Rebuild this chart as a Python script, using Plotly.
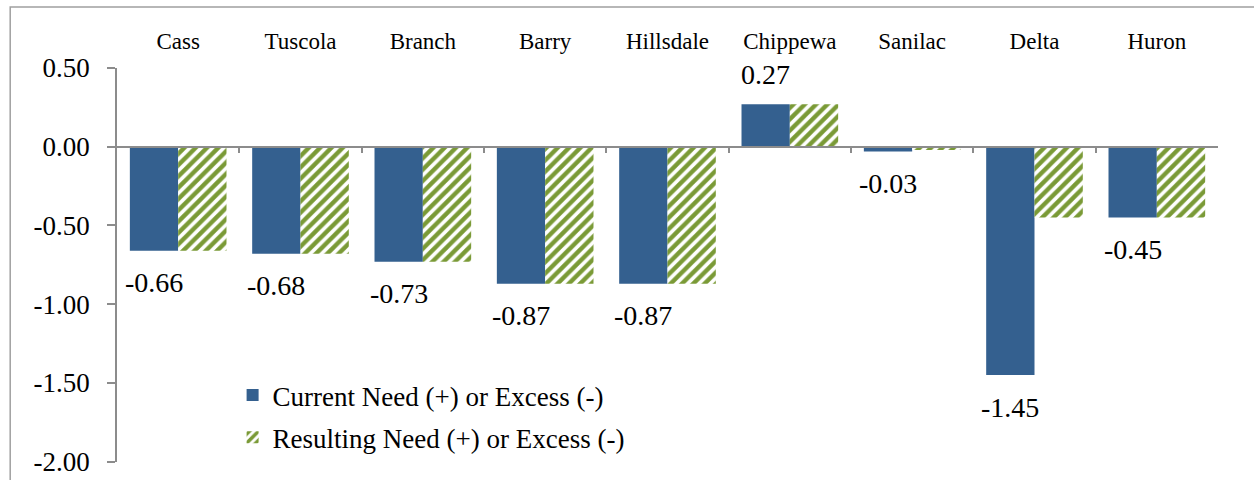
import plotly.graph_objects as go

# County-level need (+) or excess (-)
counties = ["Cass", "Tuscola", "Branch", "Barry", "Hillsdale",
            "Chippewa", "Sanilac", "Delta", "Huron"]
current_need = [-0.66, -0.68, -0.73, -0.87, -0.87, 0.27, -0.03, -1.45, -0.45]
resulting_need = [-0.66, -0.68, -0.73, -0.87, -0.87, 0.27, -0.02, -0.45, -0.45]

y_ticks = [0.5, 0.0, -0.5, -1.0, -1.5, -2.0]
y_tick_text = ["0.50", "0.00", "-0.50", "-1.00", "-1.50", "-2.00"]

BLUE = "#34608F"
GREEN = "#7A9A36"
AXIS_GRAY = "#8C8C8C"
SERIF = "Liberation Serif"
BARGAP = 0.21
Y_RANGE = [-2.002, 0.5]

fig = go.Figure()
fig.add_trace(go.Bar(
    x=counties, y=current_need, name="Current Need (+) or Excess (-)",
    marker=dict(color=BLUE, line=dict(width=0)), legendgroup="a",
))
fig.add_trace(go.Bar(
    x=counties, y=resulting_need, name="Resulting Need (+) or Excess (-)",
    marker=dict(color="white", line=dict(width=0),
                pattern=dict(shape="/", fgcolor=GREEN, bgcolor="white",
                             fgopacity=1, size=8, solidity=0.55,
                             fillmode="replace")),
    legendgroup="b",
))

# value labels under/over the "current" bars
offset = -(1 - BARGAP) / 4
for i, v in enumerate(current_need):
    fig.add_annotation(
        x=i + offset, y=v, xref="x", yref="y",
        text=f"{v:.2f}", showarrow=False,
        yshift=30 if v > 0 else -32, yanchor="middle",
        font=dict(family=SERIF, size=28, color="black"),
    )

zero_pos = (0 - Y_RANGE[0]) / (Y_RANGE[1] - Y_RANGE[0])

fig.update_layout(
    width=1254, height=480,
    margin=dict(l=117, r=36, t=68, b=18),
    paper_bgcolor="white", plot_bgcolor="white",
    barmode="group", bargap=BARGAP, bargroupgap=0,
    showlegend=True,
    legend=dict(x=0.105, y=0.0, xanchor="left", yanchor="bottom",
                bgcolor="rgba(0,0,0,0)", traceorder="grouped",
                tracegroupgap=4, borderwidth=0,
                font=dict(family=SERIF, size=27, color="black")),
    xaxis=dict(
        type="category", side="top", anchor="free", position=zero_pos,
        showline=True, linecolor=AXIS_GRAY, linewidth=1.5,
        ticks="inside", ticklen=6, tickcolor=AXIS_GRAY, tickwidth=1.5,
        tickson="boundaries", showgrid=False, zeroline=False,
        ticklabelstandoff=88, automargin=False,
        tickfont=dict(family=SERIF, size=23, color="black"),
    ),
    yaxis=dict(
        range=Y_RANGE, tickvals=y_ticks, ticktext=y_tick_text,
        showline=True, linecolor=AXIS_GRAY, linewidth=1.5,
        ticks="outside", ticklen=8, tickcolor=AXIS_GRAY, tickwidth=1.5,
        showgrid=False, zeroline=False, ticklabelstandoff=12,
        automargin=False,
        tickfont=dict(family=SERIF, size=27, color="black"),
    ),
    shapes=[dict(type="rect", xref="paper", yref="paper",
                 x0=-0.097, x1=1.04, y0=-0.1, y1=1.155,
                 line=dict(color="#A0A0A0", width=1.5), layer="below")],
)

fig.write_html("out.html")
